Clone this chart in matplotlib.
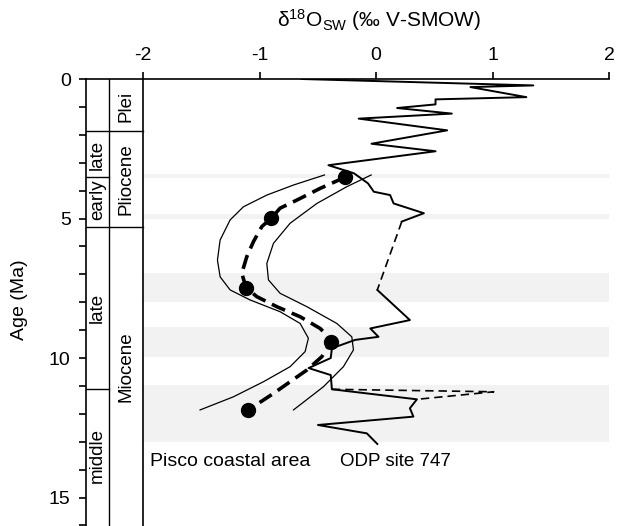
import matplotlib
matplotlib.use("Agg")
import matplotlib.pyplot as plt

plt.rcParams["font.family"] = ["Liberation Sans", "DejaVu Sans"]
plt.rcParams["mathtext.fontset"] = "custom"
plt.rcParams["mathtext.rm"] = "Liberation Sans"
plt.rcParams["mathtext.it"] = "Liberation Sans:italic"
plt.rcParams["axes.unicode_minus"] = False

# ODP site 747 (solid, with two dashed gaps)
odp_top_x = [-0.64, 1.35, 0.81, 1.29, 0.51, 0.51, 0.18, 0.65, -0.15, 0.61, -0.04, 0.51,
             -0.41, -0.19, -0.07, -0.02, 0.12, 0.15, 0.41, 0.22]
odp_top_y = [0.0, 0.23, 0.29, 0.65, 0.73, 0.91, 1.04, 1.24, 1.42, 1.84, 2.32, 2.59,
             3.09, 3.38, 3.74, 4.04, 4.16, 4.46, 4.81, 5.11]
odp_gap1_x = [0.22, 0.01]
odp_gap1_y = [5.11, 7.56]
odp_low_x = [0.01, 0.29, -0.05, 0.02, -0.18, -0.38, -0.39, -0.58, -0.39, -0.38, 0.35,
             0.29, 0.32, -0.50, -0.08, 0.01]
odp_low_y = [7.56, 8.64, 8.94, 9.24, 9.35, 9.65, 10.0, 10.36, 10.61, 11.12, 11.48,
             11.80, 12.10, 12.40, 12.70, 13.08]
odp_gap2_x = [-0.38, 1.01, 0.35]
odp_gap2_y = [11.12, 11.21, 11.48]

# Pisco coastal area: samples, trend and envelope
pisco_x = [-0.27, -0.90, -1.12, -0.39, -1.10]
pisco_y = [3.52, 4.97, 7.48, 9.44, 11.86]
trend_x = [-0.266, -0.352, -0.481, -0.681, -0.825, -0.896, -0.982, -1.054, -1.111, -1.154,
           -1.117, -1.025, -0.853, -0.653, -0.481, -0.424, -0.389, -0.466, -0.595, -0.739,
           -0.882, -1.097]
trend_y = [3.52, 3.68, 3.92, 4.34, 4.63, 4.97, 5.29, 5.83, 6.37, 6.96, 7.48, 7.80, 8.16,
           8.52, 8.94, 9.18, 9.44, 9.95, 10.43, 10.85, 11.27, 11.86]
env_left_x = [-0.444, -0.710, -0.939, -1.140, -1.254, -1.340, -1.363, -1.340, -1.254,
              -1.082, -0.825, -0.653, -0.582, -0.610, -0.739, -0.968, -1.226, -1.512]
env_left_y = [3.44, 3.80, 4.16, 4.58, 5.05, 5.77, 6.49, 7.09, 7.56, 7.92, 8.34, 8.76,
              9.29, 9.77, 10.31, 10.85, 11.39, 11.86]
env_right_x = [-0.043, -0.252, -0.509, -0.739, -0.882, -0.939, -0.925, -0.825, -0.595,
               -0.338, -0.209, -0.195, -0.281, -0.453, -0.710]
env_right_y = [3.44, 3.86, 4.46, 5.17, 5.89, 6.61, 7.20, 7.68, 8.16, 8.76, 9.24, 9.71,
               10.31, 11.03, 11.86]

# grey bands (Ma)
bands = [(3.40, 3.55), (4.85, 5.00), (6.95, 8.00), (8.90, 9.95), (10.95, 13.00)]

# stratigraphy
sub_bounds = [1.85, 3.5, 5.3, 11.1]
sub_labels = ["late", "early", "late", "middle"]
sub_pos = [2.72, 4.34, 8.2, 13.5]
epoch_bounds = [1.85, 5.3]
epoch_labels = ["Plei", "Pliocene", "Miocene"]
epoch_pos = [1.0, 3.58, 10.3]

X_LEFT = -2.492
X_DIV = -2.292

fig = plt.figure(figsize=(6.22, 5.26), dpi=100)
ax = fig.add_axes([86 / 622, 0, (609 - 86) / 622, (526 - 79) / 526])
ax.set_xlim(X_LEFT, 2)
ax.set_ylim(16.02, 0)

fmin = (-2 - X_LEFT) / (2 - X_LEFT)
for y0, y1 in bands:
    ax.axhspan(y0, y1, xmin=fmin, xmax=1, color="#f2f2f2", lw=0, zorder=0)

# strat columns
ax.axvline(-2, color="black", lw=1.2)
ax.axvline(X_DIV, color="black", lw=1.0)
for b in epoch_bounds:
    ax.plot([X_LEFT, -2], [b, b], color="black", lw=1.0)
for b in sub_bounds:
    if b not in epoch_bounds:
        ax.plot([X_LEFT, X_DIV], [b, b], color="black", lw=1.0)
c1 = (X_LEFT + X_DIV) / 2
c2 = (X_DIV - 2) / 2
for lab, y in zip(sub_labels, sub_pos):
    ax.text(c1, y, lab, rotation=90, ha="center", va="center", fontsize=13.5)
for lab, y in zip(epoch_labels, epoch_pos):
    ax.text(c2, y, lab, rotation=90, ha="center", va="center", fontsize=13.5)

# ODP site 747
ax.plot(odp_top_x, odp_top_y, color="black", lw=1.4)
ax.plot(odp_gap1_x, odp_gap1_y, color="black", lw=1.2, ls=(0, (5, 3)))
ax.plot(odp_low_x, odp_low_y, color="black", lw=1.4)
ax.plot(odp_gap2_x, odp_gap2_y, color="black", lw=1.2, ls=(0, (5, 3)))

# Pisco
ax.plot(env_left_x, env_left_y, color="black", lw=0.9)
ax.plot(env_right_x, env_right_y, color="black", lw=0.9)
ax.plot(trend_x, trend_y, color="black", lw=2.6, ls=(0, (4, 2)))
ax.plot(pisco_x, pisco_y, "o", color="black", ms=10, zorder=5)

ax.text(-1.94, 13.71, "Pisco coastal area", fontsize=14, va="center", ha="left")
ax.text(-0.31, 13.71, "ODP site 747", fontsize=13.5, va="center", ha="left")

# axes styling
for s in ["right", "bottom"]:
    ax.spines[s].set_visible(False)
ax.spines["top"].set_linewidth(1.2)
ax.spines["left"].set_linewidth(1.2)
ax.xaxis.tick_top()
ax.set_xticks([-2, -1, 0, 1, 2])
ax.set_xticklabels(["-2", "-1", "0", "1", "2"])
ax.set_yticks([0, 5, 10, 15])
ax.set_yticks(range(0, 17), minor=True)
ax.tick_params(axis="x", direction="out", length=5, width=1.2, pad=6, labelsize=14)
ax.tick_params(axis="y", which="both", direction="out", length=5, width=1.2, pad=6,
               labelsize=14)

fig.text(379 / 622, 1 - 20 / 526, r"δ$^{18}$O$_{\mathrm{SW}}$ (‰ V-SMOW)",
         ha="center", va="center", fontsize=15)
fig.text(20 / 622, 1 - 300 / 526, "Age (Ma)", rotation=90, ha="center", va="center",
         fontsize=14)

fig.savefig("out.png", dpi=100)
